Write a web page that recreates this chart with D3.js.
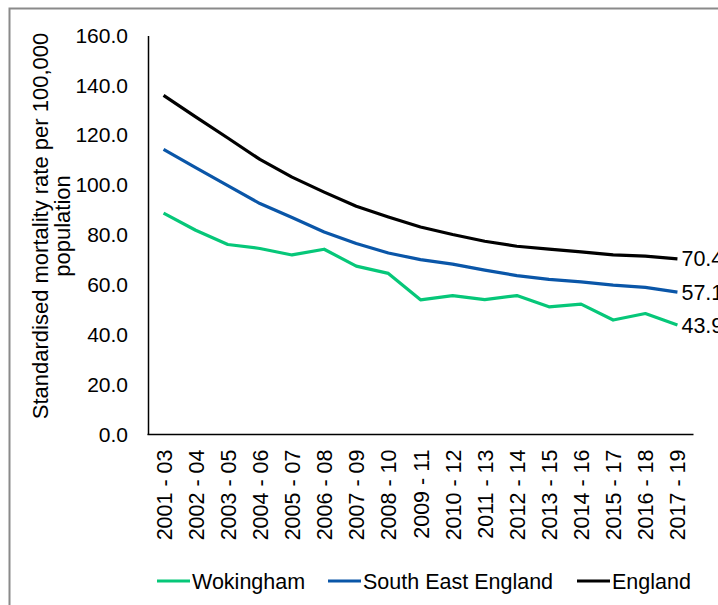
<!DOCTYPE html>
<html>
<head>
<meta charset="utf-8">
<script src="https://cdn.jsdelivr.net/npm/d3@7"></script>
<style>
  html, body { margin: 0; padding: 0; background: #fff; }
  svg { display: block; font-family: "Liberation Sans", Arial, sans-serif; }
</style>
</head>
<body>
<svg id="chart" width="718" height="605"></svg>
<script>
const categories = ["2001 - 03","2002 - 04","2003 - 05","2004 - 06","2005 - 07","2006 - 08","2007 - 09","2008 - 10","2009 - 11","2010 - 12","2011 - 13","2012 - 14","2013 - 15","2014 - 16","2015 - 17","2016 - 18","2017 - 19"];
const wokingham = [88.8, 81.9, 76.2, 74.6, 72.0, 74.3, 67.5, 64.6, 54.0, 55.7, 54.1, 55.7, 51.2, 52.3, 45.9, 48.5, 43.9];
const southEastEngland = [114.3, 107.0, 99.8, 92.6, 87.0, 81.2, 76.6, 72.8, 70.1, 68.3, 65.9, 63.7, 62.2, 61.2, 59.9, 59.0, 57.1];
const england = [136.0, 127.4, 118.9, 110.3, 103.2, 97.2, 91.5, 87.2, 83.2, 80.2, 77.5, 75.5, 74.3, 73.2, 72.0, 71.5, 70.4];
const yTicks = [0, 20, 40, 60, 80, 100, 120, 140, 160];
const seriesNames = ["Wokingham", "South East England", "England"];
const yLabelLines = ["Standardised mortality rate per 100,000", "population"];

const colors = ["#06c779", "#0a56a8", "#000000"];
const seriesValues = [wokingham, southEastEngland, england];
const FONT = "'Liberation Sans', Arial, sans-serif";

const svg = d3.select("#chart");

// outer frame (chart area border, extends past window)
svg.append("rect")
  .attr("x", 9.5).attr("y", 8.5)
  .attr("width", 760).attr("height", 640)
  .attr("fill", "none").attr("stroke", "#8a8a8a").attr("stroke-width", 2);

const x = d3.scalePoint().domain(categories).range([147.5, 693.5]).padding(0.5);
const y = d3.scaleLinear().domain([0, 160]).range([434.5, 35.5]);

// y axis
const yAxis = svg.append("g").attr("transform", "translate(148,0)")
  .call(d3.axisLeft(y).tickValues(yTicks).tickFormat(d3.format(".1f")).tickSize(0).tickPadding(20));
yAxis.attr("font-size", null).attr("font-family", null);
yAxis.select(".domain").attr("stroke", "#000").attr("stroke-width", 1.5);
yAxis.selectAll("text").style("font-size", "21px").attr("fill", "#000")
  .style("font-family", FONT);

// x axis
const xAxis = svg.append("g").attr("transform", "translate(0,434.5)")
  .call(d3.axisBottom(x).tickSize(0).tickPadding(0));
xAxis.attr("font-size", null).attr("font-family", null);
xAxis.select(".domain").attr("stroke", "#000").attr("stroke-width", 1.5)
  .attr("d", "M147.5,0H693.5");
xAxis.selectAll("text")
  .style("font-size", "21.5px").attr("fill", "#000")
  .style("font-family", FONT)
  .attr("text-anchor", "end")
  .attr("y", 0)
  .attr("x", 0)
  .attr("transform", "translate(0,15) rotate(-90)")
  .attr("dy", "0.35em");

// lines
const line = d3.line().x((d, i) => x(categories[i])).y(d => y(d));
seriesValues.forEach((vals, k) => {
  svg.append("path")
    .datum(vals)
    .attr("d", line)
    .attr("fill", "none")
    .attr("stroke", colors[k])
    .attr("stroke-width", 3.2)
    .attr("stroke-linejoin", "round");
  const last = vals.length - 1;
  svg.append("text")
    .attr("x", x(categories[last]) + 4)
    .attr("y", y(vals[last]))
    .attr("dy", "0.35em")
    .style("font-size", "21.5px")
    .attr("fill", "#000")
    .text(d3.format(".1f")(vals[last]));
});

// y axis title
yLabelLines.forEach((t, i) => {
  svg.append("text")
    .attr("transform", `translate(${47.5 + i * 22.5},226) rotate(-90)`)
    .attr("text-anchor", "middle")
    .style("font-size", "22px")
    .style("font-family", FONT)
    .attr("fill", "#000")
    .text(t);
});

// legend
const legendX = [157, 328, 577];
const legend = svg.append("g");
seriesNames.forEach((name, k) => {
  const g = legend.append("g").attr("transform", `translate(${legendX[k]},581)`);
  g.append("line").attr("x1", 0).attr("x2", 33).attr("y1", 0).attr("y2", 0)
    .attr("stroke", colors[k]).attr("stroke-width", 3.2);
  g.append("text").attr("x", 35).attr("y", 0).attr("dy", "0.35em")
    .style("font-size", "21.5px").attr("fill", "#000").text(name);
});
</script>
</body>
</html>
